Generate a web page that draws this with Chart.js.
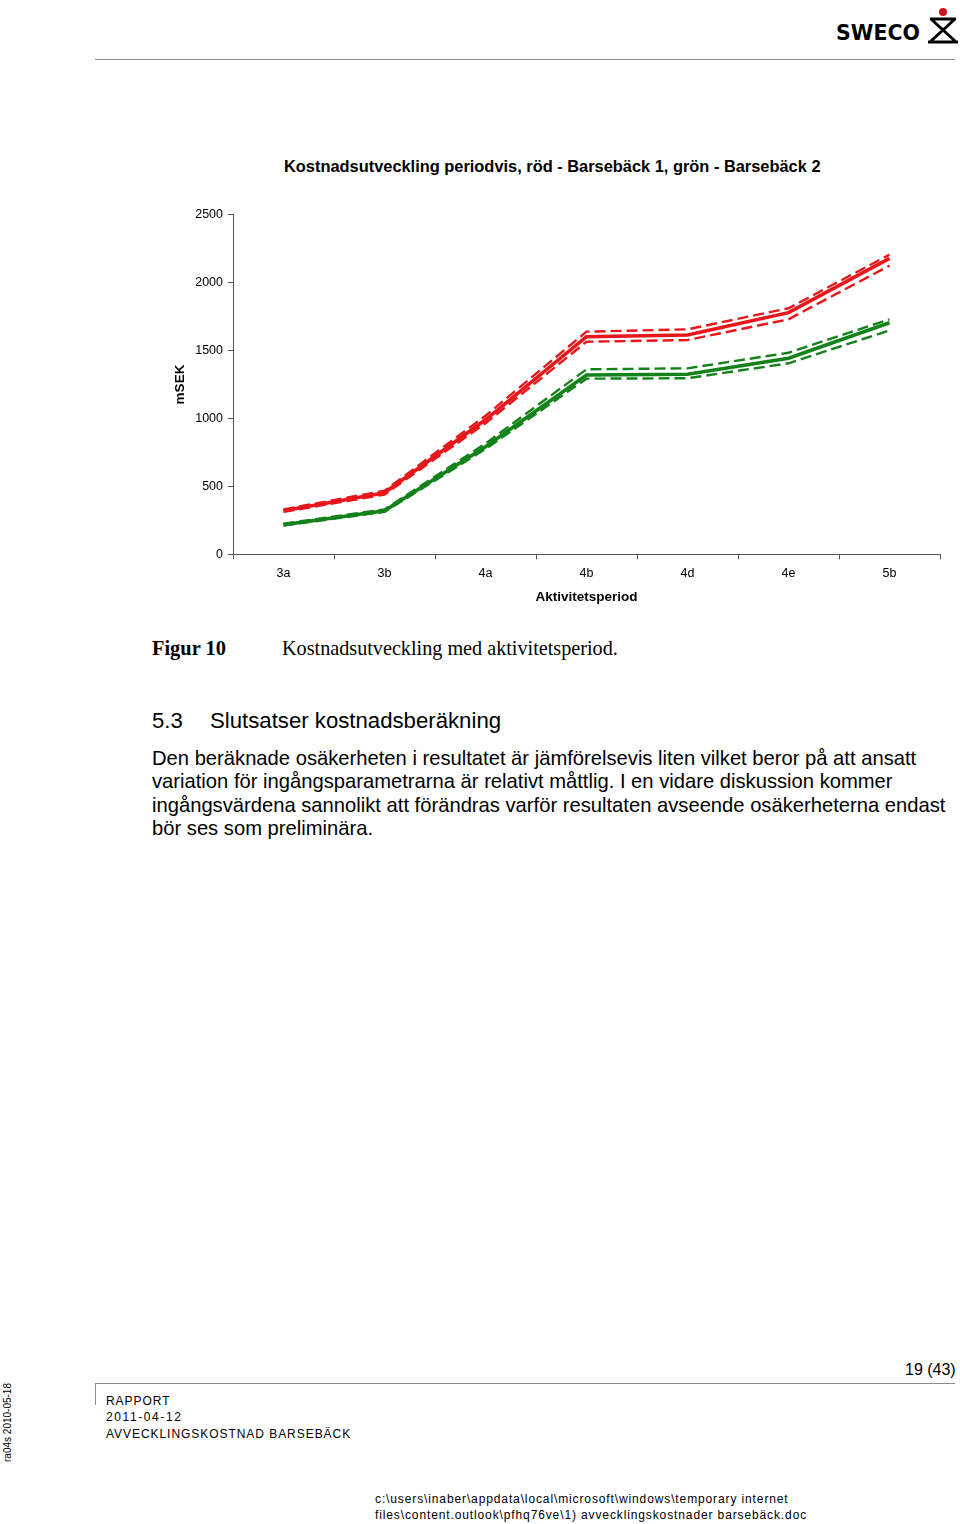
<!DOCTYPE html>
<html>
<head>
<meta charset="utf-8">
<script src="https://cdn.jsdelivr.net/npm/chart.js@4/dist/chart.umd.min.js"></script>
<style>
    body { margin: 0; background: #fff; }
    .page { position: relative; width: 960px; height: 1524px; overflow: hidden; font-family: 'Liberation Sans', Arial, sans-serif; color: #000; }
    .abs { position: absolute; white-space: nowrap; }
    .rule { position: absolute; background: #8c8c8c; }
    #chartBox { position: absolute; left: 160px; top: 140px; width: 790px; height: 480px; }
    .para div { height: 23.4px; line-height: 23.4px; }
    .foot { font-size: 12px; letter-spacing: 0.95px; }
</style>
</head>
<body>
<div class="page">
    <!-- header -->
    <div class="abs" style="left:836px; top:21px; font-family:'DejaVu Sans'; font-weight:bold; font-size:20.5px;">SWECO</div>
    <svg class="abs" style="left:926px; top:4px;" width="34" height="42" viewBox="0 0 34 42">
        <circle cx="17" cy="8" r="4" fill="#d0101c"/>
        <path d="M4 15 L30 15 M5 15 L29 37 M29 15 L5 37 M2 38 L32 38" stroke="#000" stroke-width="3" fill="none"/>
    </svg>
    <div class="rule" style="left:95px; top:59px; width:860px; height:1px;"></div>

    <div class="abs" id="chartTitle" style="left:284px; top:157px; font-size:16.4px; font-weight:bold;">Kostnadsutveckling periodvis, röd - Barsebäck 1, grön - Barsebäck 2</div>
    <div id="chartBox"><canvas id="costChart"></canvas></div>

    <div class="abs" style="left:152px; top:637px; font-family:'Liberation Serif'; font-size:20.4px; font-weight:bold;">Figur 10</div>
    <div class="abs" style="left:282px; top:637px; font-family:'Liberation Serif'; font-size:20.2px;">Kostnadsutveckling med aktivitetsperiod.</div>

    <div class="abs" style="left:152px; top:708px; font-size:22.2px;">5.3</div>
    <div class="abs" style="left:210px; top:708px; font-size:22.2px;">Slutsatser kostnadsberäkning</div>

    <div class="abs para" style="left:152px; top:747px; font-size:20.2px;">
        <div>Den beräknade osäkerheten i resultatet är jämförelsevis liten vilket beror på att ansatt</div>
        <div>variation för ingångsparametrarna är relativt måttlig. I en vidare diskussion kommer</div>
        <div>ingångsvärdena sannolikt att förändras varför resultaten avseende osäkerheterna endast</div>
        <div>bör ses som preliminära.</div>
    </div>

    <!-- footer -->
    <div class="abs" style="left:905px; top:1361px; font-size:16px;">19 (43)</div>
    <div class="rule" style="left:95px; top:1383px; width:860px; height:1px;"></div>
    <div class="rule" style="left:95px; top:1383px; width:1px; height:22px;"></div>
    <div class="abs foot" style="left:106px; top:1394px;">RAPPORT</div>
    <div class="abs foot" style="left:106px; top:1410px; letter-spacing:1.6px;">2011-04-12</div>
    <div class="abs foot" style="left:106px; top:1427px;">AVVECKLINGSKOSTNAD BARSEBÄCK</div>
    <div class="abs" style="left:-32px; top:1417px; font-size:10px; transform:rotate(-90deg); transform-origin:center;">ra04s 2010-05-18</div>
    <div class="abs" style="left:375px; top:1492px; font-size:12px; letter-spacing:0.88px;">c:\users\inaber\appdata\local\microsoft\windows\temporary internet</div>
    <div class="abs" style="left:375px; top:1508px; font-size:12px; letter-spacing:0.88px;">files\content.outlook\pfhq76ve\1) avvecklingskostnader barsebäck.doc</div>
</div>

<script>
const periods = ['3a', '3b', '4a', '4b', '4d', '4e', '5b'];
const yTicks = [0, 500, 1000, 1500, 2000, 2500];

// Barsebäck 1 (red)
const b1Mid = [321, 453, 990, 1602, 1614, 1779, 2179];
const b1High = [330, 468, 1020, 1639, 1656, 1811, 2206];
const b1Low = [312, 440, 965, 1565, 1577, 1730, 2125];

// Barsebäck 2 (green)
const b2Mid = [218, 321, 792, 1320, 1325, 1443, 1705];
const b2High = [225, 330, 815, 1362, 1369, 1484, 1730];
const b2Low = [212, 312, 775, 1293, 1296, 1406, 1648];

const RED = '#e8161b';
const GREEN = '#14821a';
const AXIS = '#555555';
const tickFont = { family: "'Liberation Sans', Arial, sans-serif", size: 12.5 };

function series(label, data, color, dashed) {
    return {
        label: label,
        data: data,
        borderColor: color,
        backgroundColor: color,
        borderWidth: dashed ? 2.4 : 3.6,
        borderDash: dashed ? [11, 5] : [],
        pointRadius: 0,
        tension: 0,
        fill: false,
    };
}

Chart.defaults.color = '#000';
Chart.defaults.font.family = tickFont.family;

new Chart(document.getElementById('costChart'), {
    type: 'line',
    data: {
        labels: periods,
        datasets: [
            series('B1 hög', b1High, RED, true),
            series('B1 låg', b1Low, RED, true),
            series('B1', b1Mid, RED, false),
            series('B2 hög', b2High, GREEN, true),
            series('B2 låg', b2Low, GREEN, true),
            series('B2', b2Mid, GREEN, false),
        ],
    },
    options: {
        responsive: true,
        maintainAspectRatio: false,
        animation: false,
        layout: { padding: { top: 74.7, right: 10, bottom: 0, left: 0 } },
        plugins: {
            legend: { display: false },
            tooltip: { enabled: false },
        },
        scales: {
            x: {
                type: 'category',
                offset: true,
                afterFit: (s) => { s.height = 65.7; },
                grid: { offset: true, drawOnChartArea: false, drawTicks: true, tickLength: 5, color: AXIS },
                border: { color: AXIS, width: 1 },
                ticks: { font: tickFont, color: '#000', padding: 7, maxRotation: 0 },
                title: {
                    display: true,
                    text: 'Aktivitetsperiod',
                    font: { size: 13.5, weight: 'bold' },
                    color: '#000',
                    padding: { top: 0, bottom: 15 },
                },
            },
            y: {
                min: 0,
                max: 2500,
                afterFit: (s) => { s.width = 73; },
                afterBuildTicks: (s) => { s.ticks = yTicks.map((v) => ({ value: v })); },
                grid: { drawOnChartArea: false, drawTicks: true, tickLength: 5, color: AXIS },
                border: { color: AXIS, width: 1 },
                ticks: { font: tickFont, color: '#000', padding: 5, callback: (v) => String(v) },
                title: {
                    display: true,
                    text: 'mSEK',
                    font: { size: 13.5, weight: 'bold' },
                    color: '#000',
                    padding: { top: 12, bottom: 0 },
                },
            },
        },
    },
});
</script>
</body>
</html>
